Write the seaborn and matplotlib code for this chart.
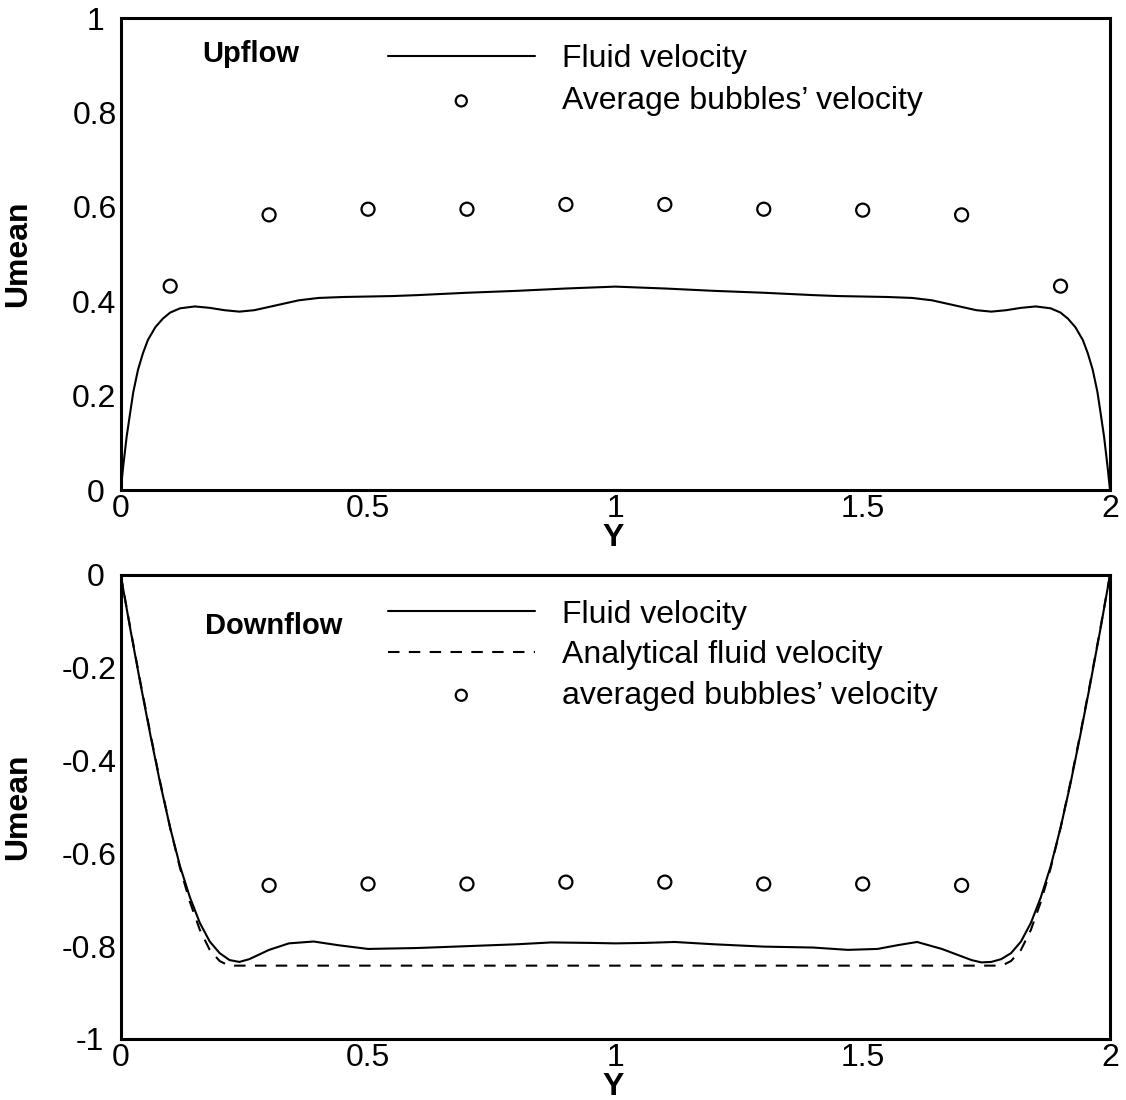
import numpy as np
import pandas as pd
import matplotlib
matplotlib.use("Agg")
import matplotlib.pyplot as plt
from matplotlib.ticker import MultipleLocator
from matplotlib.transforms import ScaledTranslation
import seaborn as sns

# ---- Upflow data ----
up_y = [0, 0.005, 0.012, 0.02, 0.0255, 0.035, 0.045, 0.055, 0.07, 0.085, 0.1, 0.12,
        0.15, 0.18, 0.21, 0.24, 0.27, 0.3, 0.33, 0.36, 0.4, 0.45, 0.5, 0.55, 0.6, 0.7,
        0.8, 0.9, 1.0, 1.1, 1.2, 1.3, 1.4, 1.45, 1.5, 1.55, 1.6, 1.64, 1.67, 1.7, 1.73,
        1.76, 1.79, 1.82, 1.85, 1.88, 1.9, 1.915, 1.93, 1.945, 1.955, 1.965, 1.9745,
        1.98, 1.988, 1.995, 2.0]
up_fluid = [0, 0.05, 0.113, 0.17, 0.208, 0.255, 0.29, 0.318, 0.345, 0.363, 0.376, 0.385,
            0.389, 0.386, 0.381, 0.378, 0.381, 0.388, 0.395, 0.402, 0.407, 0.409, 0.41, 0.411,
            0.413, 0.418, 0.422, 0.427, 0.431, 0.427, 0.422, 0.418, 0.413, 0.411, 0.41, 0.409,
            0.407, 0.402, 0.395, 0.388, 0.381, 0.378, 0.381, 0.386, 0.389, 0.385, 0.376,
            0.363, 0.345, 0.318, 0.29, 0.255, 0.208, 0.17, 0.113, 0.05, 0]
up_bub_y = [0.1, 0.3, 0.5, 0.7, 0.9, 1.1, 1.3, 1.5, 1.7, 1.9]
up_bub = [0.432, 0.583, 0.595, 0.595, 0.605, 0.605, 0.595, 0.593, 0.583, 0.432]

# ---- Downflow data ----
dn_y = [0, 0.02, 0.04, 0.06, 0.08, 0.1, 0.12, 0.14, 0.16, 0.18, 0.2, 0.22, 0.24, 0.26,
        0.28, 0.3, 0.34, 0.39, 0.44, 0.5, 0.6, 0.7, 0.8, 0.87, 0.95, 1.0, 1.06, 1.12, 1.2,
        1.3, 1.4, 1.47, 1.53, 1.57, 1.61, 1.66, 1.7, 1.72, 1.74, 1.76, 1.78, 1.8, 1.82,
        1.84, 1.86, 1.88, 1.9, 1.92, 1.94, 1.96, 1.98, 2.0]
dn_fluid = [0, -0.12, -0.235, -0.345, -0.45, -0.545, -0.628, -0.695, -0.75, -0.79, -0.815,
            -0.83, -0.834, -0.828, -0.818, -0.808, -0.794, -0.79, -0.798, -0.806, -0.804,
            -0.8, -0.796, -0.792, -0.793, -0.794, -0.793, -0.791, -0.796, -0.801, -0.803,
            -0.808, -0.806, -0.798, -0.791, -0.806, -0.822, -0.83, -0.835, -0.834, -0.828,
            -0.815, -0.79, -0.75, -0.695, -0.628, -0.545, -0.45, -0.345, -0.235, -0.12, 0]
an_y = [0, 0.02, 0.04, 0.06, 0.08, 0.1, 0.12, 0.14, 0.16, 0.18, 0.2, 0.215, 0.23,
        1.77, 1.785, 1.8, 1.82, 1.84, 1.86, 1.88, 1.9, 1.92, 1.94, 1.96, 1.98, 2.0]
an_fluid = [0, -0.118, -0.232, -0.342, -0.447, -0.545, -0.632, -0.705, -0.765, -0.808,
            -0.832, -0.84, -0.842, -0.842, -0.84, -0.832, -0.808, -0.765, -0.705, -0.632,
            -0.545, -0.447, -0.342, -0.232, -0.118, 0]
dn_bub_y = [0.3, 0.5, 0.7, 0.9, 1.1, 1.3, 1.5, 1.7]
dn_bub = [-0.669, -0.666, -0.666, -0.662, -0.662, -0.666, -0.666, -0.669]

x_ticks = [0, 0.5, 1, 1.5, 2]
x_ticklabels = ["0", "0.5", "1", "1.5", "2"]
up_yticks = [0, 0.2, 0.4, 0.6, 0.8, 1]
up_yticklabels = ["0", "0.2", "0.4", "0.6", "0.8", "1"]
dn_yticks = [-1, -0.8, -0.6, -0.4, -0.2, 0]
dn_yticklabels = ["-1", "-0.8", "-0.6", "-0.4", "-0.2", "0"]

sns.set_style("white")
plt.rcParams["font.family"] = ["Liberation Sans", "DejaVu Sans"]
plt.rcParams["text.color"] = "black"
plt.rcParams["axes.labelcolor"] = "black"
plt.rcParams["xtick.color"] = "black"
plt.rcParams["ytick.color"] = "black"

fig = plt.figure(figsize=(11.26, 11.0), dpi=100)
ax1 = fig.add_axes([0.1072, 0.5545, 0.8786, 0.4291])
ax2 = fig.add_axes([0.1072, 0.0555, 0.8786, 0.4218])

LW = 1.5
MS = 88


def style_axis(ax, yticks, yticklabels, ylim):
    ax.set_xlim(0, 2)
    ax.set_ylim(*ylim)
    ax.set_xticks(x_ticks, x_ticklabels)
    ax.set_yticks(yticks, yticklabels)
    ax.xaxis.set_minor_locator(MultipleLocator(0.1))
    ax.yaxis.set_minor_locator(MultipleLocator(0.04))
    ax.tick_params(which="both", direction="in", top=False, right=False,
                   labelsize=23, colors="black")
    ax.tick_params(which="major", length=8, width=1.5)
    ax.tick_params(which="minor", length=5.5, width=0.9)
    ax.tick_params(axis="y", pad=3)
    ax.tick_params(axis="x", pad=3)
    for s in ax.spines.values():
        s.set_linewidth(2.2)
        s.set_color("black")
    ax.set_xlabel("Y", fontsize=23, fontweight="bold")
    ax.set_ylabel("Umean", fontsize=23, fontweight="bold")
    # place the axis title just under the tick labels (in pixels)
    ax.xaxis.set_label_coords(0.498, -33 / (ax.get_position().height * 1100))
    ax.yaxis.set_label_coords(-0.089, 0.5)
    # integer labels sit a little further left, as in the original
    shift = ScaledTranslation(-9 / 72, 0, fig.dpi_scale_trans)
    for lab in ax.get_yticklabels():
        if "." not in lab.get_text():
            lab.set_transform(lab.get_transform() + shift)


# Upflow panel
sns.lineplot(x=up_y, y=up_fluid, ax=ax1, color="black", lw=LW, sort=False,
             label="Fluid velocity")
sns.scatterplot(x=up_bub_y, y=up_bub, ax=ax1, marker="o", s=MS, facecolor="none",
                edgecolor="black", linewidth=1.6, label="Average bubbles\u2019 velocity",
                zorder=3)
style_axis(ax1, up_yticks, up_yticklabels, (0, 1))
ax1.text(0.082, 0.907, "Upflow", transform=ax1.transAxes, fontsize=21,
         fontweight="bold", va="baseline", ha="left", color="black")
ax1.legend(loc="upper left", bbox_to_anchor=(0.27, 0.944), frameon=False,
           fontsize=23, handlelength=4.6, handletextpad=0.85, labelspacing=0.37,
           borderpad=0, borderaxespad=0, markerscale=0.85, labelcolor="black")

# Downflow panel
sns.lineplot(x=dn_y, y=dn_fluid, ax=ax2, color="black", lw=LW, sort=False,
             label="Fluid velocity")
sns.lineplot(x=an_y, y=an_fluid, ax=ax2, color="black", lw=LW, sort=False,
             linestyle="--", label="Analytical fluid velocity")
ax2.lines[-1].set_dashes((5.5, 4.5))
sns.scatterplot(x=dn_bub_y, y=dn_bub, ax=ax2, marker="o", s=MS, facecolor="none",
                edgecolor="black", linewidth=1.6, label="averaged bubbles\u2019 velocity",
                zorder=3)
style_axis(ax2, dn_yticks, dn_yticklabels, (-1, 0))
ax2.text(0.085, 0.873, "Downflow", transform=ax2.transAxes, fontsize=21,
         fontweight="bold", va="baseline", ha="left", color="black")
leg = ax2.legend(loc="upper left", bbox_to_anchor=(0.27, 0.947), frameon=False,
                 fontsize=23, handlelength=4.6, handletextpad=0.85, labelspacing=0.33,
                 borderpad=0, borderaxespad=0, markerscale=0.85, labelcolor="black")
leg.get_lines()[1].set_dashes((5.5, 4.5))

fig.savefig("out.png", dpi=100)
